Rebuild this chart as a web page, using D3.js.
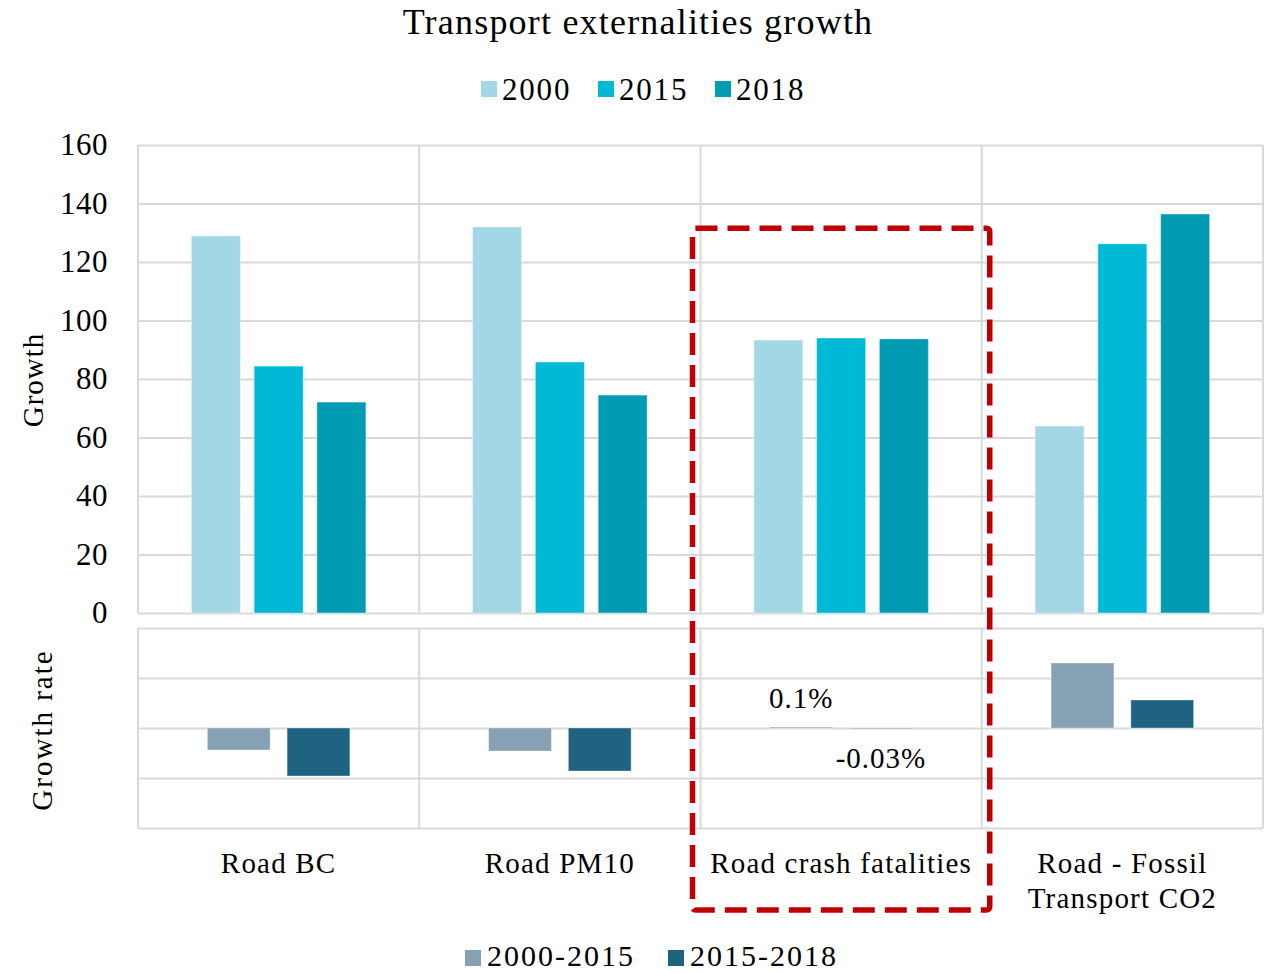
<!DOCTYPE html>
<html>
<head>
<meta charset="utf-8">
<script src="https://cdn.jsdelivr.net/npm/d3@7"></script>
<style>
  body { margin: 0; background: #fff; }
  text { font-family: "Liberation Serif", "DejaVu Serif", serif; fill: #000; }
</style>
</head>
<body>
<div id="chart"></div>
<script>
// DATA
const categories = ["Road BC", "Road PM10", "Road crash fatalities", "Road - Fossil Transport CO2"];
const categoryLines = [["Road BC"], ["Road PM10"], ["Road crash fatalities"], ["Road - Fossil", "Transport CO2"]];
const years = ["2000", "2015", "2018"];
const values2000 = [128.9, 132.0, 93.3, 63.9];
const values2015 = [84.4, 85.8, 94.0, 126.2];
const values2018 = [72.1, 74.5, 93.7, 136.4];
const periods = ["2000-2015", "2015-2018"];
const rate2000to2015 = [-2.2, -2.3, 0.1, 6.5];
const rate2015to2018 = [-4.8, -4.3, -0.03, 2.8];
const labelledCategory = "Road crash fatalities";
const growthTicks = [0, 20, 40, 60, 80, 100, 120, 140, 160];
const rateTicks = [-10, -5, 0, 5, 10];

const yearColors = ["#A3D7E6", "#00B9D6", "#019CB3"];
const periodColors = ["#87A1B4", "#1F6381"];
const gridColor = "#D9D9D9";

//  SET DIMENSIONS
const W = 1264, H = 973;
const left = 138, right = 1263;
const topPanel = { top: 145, bottom: 613 };
const lowPanel = { top: 628, bottom: 828 };

const svg = d3.select("#chart")
    .append("svg")
    .attr("width", W)
    .attr("height", H);

// SCALES
const x = d3.scaleBand()
    .domain(categories)
    .range([left, right]);

const xYear = d3.scaleBand()
    .domain(years)
    .range([0, x.bandwidth()])
    .paddingInner(0.22)
    .paddingOuter(0.85);

const xPeriod = d3.scaleBand()
    .domain(periods)
    .range([0, x.bandwidth()])
    .paddingInner(0.2125)
    .paddingOuter(0.87);

const y = d3.scaleLinear()
    .domain([0, 160])
    .range([topPanel.bottom, topPanel.top]);

const yRate = d3.scaleLinear()
    .domain([-10, 10])
    .range([lowPanel.bottom, lowPanel.top]);

// TITLE
svg.append("text")
    .attr("x", 638)
    .attr("y", 34)
    .attr("text-anchor", "middle")
    .style("font-size", "36px")
    .style("letter-spacing", "1.2px")
    .text("Transport externalities growth");

// TOP LEGEND
const legendTop = svg.append("g");
years.forEach((yr, i) => {
    const gx = 481 + i * 117;
    legendTop.append("rect")
        .attr("x", gx).attr("y", 81)
        .attr("width", 16).attr("height", 16)
        .attr("fill", yearColors[i]);
    legendTop.append("text")
        .attr("x", gx + 21).attr("y", 100)
        .style("font-size", "31px")
        .style("letter-spacing", "1.8px")
        .text(yr);
});

// TOP PANEL GRID
svg.append("g")
    .attr("transform", `translate(${left}, 0)`)
    .call(d3.axisLeft(y).tickValues(growthTicks).tickSize(-(right - left)).tickFormat(""))
    .call(g => g.select(".domain").remove())
    .call(g => g.selectAll("line").attr("stroke", gridColor).attr("stroke-width", 2));

svg.append("g")
    .selectAll("line")
    .data(categories.concat(["end"]))
    .join("line")
    .attr("x1", d => d === "end" ? right : x(d))
    .attr("x2", d => d === "end" ? right : x(d))
    .attr("y1", topPanel.top)
    .attr("y2", topPanel.bottom)
    .attr("stroke", gridColor)
    .attr("stroke-width", 2);

// Y TICK LABELS
svg.append("g")
    .attr("transform", `translate(${left - 30}, 0)`)
    .call(d3.axisLeft(y).tickValues(growthTicks).tickSize(0).tickPadding(0))
    .call(g => g.select(".domain").remove())
    .call(g => g.selectAll("text")
        .style("font-family", "Liberation Serif")
        .style("font-size", "31px")
        .style("letter-spacing", "0.5px")
        .attr("fill", "#000"));

svg.append("text")
    .attr("transform", `translate(43, 380) rotate(-90)`)
    .attr("text-anchor", "middle")
    .style("font-size", "29px")
    .style("letter-spacing", "1px")
    .text("Growth");

// TOP BARS
const yearData = [values2000, values2015, values2018];
categories.forEach((c, ci) => {
    svg.append("g")
        .selectAll("rect")
        .data(years.map((yr, i) => ({ yr, v: yearData[i][ci], color: yearColors[i] })))
        .join("rect")
        .attr("x", d => x(c) + xYear(d.yr))
        .attr("y", d => y(d.v))
        .attr("width", xYear.bandwidth())
        .attr("height", d => y(0) - y(d.v))
        .attr("fill", d => d.color)
        .attr("stroke", "#ffffff")
        .attr("stroke-opacity", 0.35)
        .attr("stroke-width", 1);
});

// BOTTOM PANEL GRID
svg.append("g")
    .attr("transform", `translate(${left}, 0)`)
    .call(d3.axisLeft(yRate).tickValues(rateTicks).tickSize(-(right - left)).tickFormat(""))
    .call(g => g.select(".domain").remove())
    .call(g => g.selectAll("line").attr("stroke", gridColor).attr("stroke-width", 2));

svg.append("g")
    .selectAll("line")
    .data(categories.concat(["end"]))
    .join("line")
    .attr("x1", d => d === "end" ? right : x(d))
    .attr("x2", d => d === "end" ? right : x(d))
    .attr("y1", lowPanel.top)
    .attr("y2", lowPanel.bottom)
    .attr("stroke", gridColor)
    .attr("stroke-width", 2);

svg.append("text")
    .attr("transform", `translate(52, 730) rotate(-90)`)
    .attr("text-anchor", "middle")
    .style("font-size", "29px")
    .style("letter-spacing", "2px")
    .text("Growth rate");

// BOTTOM BARS
const rateData = [rate2000to2015, rate2015to2018];
categories.forEach((c, ci) => {
    const rows = periods.map((p, i) => ({ p, v: rateData[i][ci], color: periodColors[i] }));
    svg.append("g")
        .selectAll("rect")
        .data(rows)
        .join("rect")
        .attr("x", d => x(c) + xPeriod(d.p))
        .attr("y", d => yRate(Math.max(0, d.v)))
        .attr("width", xPeriod.bandwidth())
        .attr("height", d => Math.abs(yRate(d.v) - yRate(0)))
        .attr("fill", d => d.color)
        .attr("stroke", "#ffffff")
        .attr("stroke-opacity", 0.35)
        .attr("stroke-width", 1);

    if (c === labelledCategory) {
        svg.append("g")
            .selectAll("text")
            .data(rows)
            .join("text")
            .attr("x", d => x(c) + xPeriod(d.p) + xPeriod.bandwidth() / 2)
            .attr("y", d => yRate(0) + (d.v >= 0 ? -30 : 30))
            .attr("dy", "0.35em")
            .attr("text-anchor", "middle")
            .style("font-size", "29px")
            .style("letter-spacing", "1px")
            .text(d => d.v + "%");
    }
});

// CATEGORY LABELS
categories.forEach((c, ci) => {
    const t = svg.append("text")
        .attr("x", x(c) + x.bandwidth() / 2)
        .attr("y", 873)
        .attr("text-anchor", "middle")
        .style("font-size", "29px")
        .style("letter-spacing", "1.2px");
    categoryLines[ci].forEach((line, li) => {
        t.append("tspan")
            .attr("x", x(c) + x.bandwidth() / 2)
            .attr("dy", li === 0 ? 0 : 35)
            .text(line);
    });
});

// BOTTOM LEGEND
const legendLow = svg.append("g");
periods.forEach((p, i) => {
    const gx = 465 + i * 203;
    legendLow.append("rect")
        .attr("x", gx).attr("y", 950)
        .attr("width", 16).attr("height", 16)
        .attr("fill", periodColors[i]);
    legendLow.append("text")
        .attr("x", gx + 22).attr("y", 966)
        .style("font-size", "30px")
        .style("letter-spacing", "2px")
        .text(p);
});

// HIGHLIGHT BOX AROUND ROAD CRASH FATALITIES
const hx = x(labelledCategory);
svg.append("rect")
    .attr("x", hx - 8)
    .attr("y", y(131.5))
    .attr("width", x.bandwidth() + 16)
    .attr("height", 910 - y(131.5))
    .attr("rx", 3)
    .attr("fill", "none")
    .attr("stroke", "#C00000")
    .attr("stroke-width", 5.5)
    .attr("stroke-dasharray", "22,10");
</script>
</body>
</html>
